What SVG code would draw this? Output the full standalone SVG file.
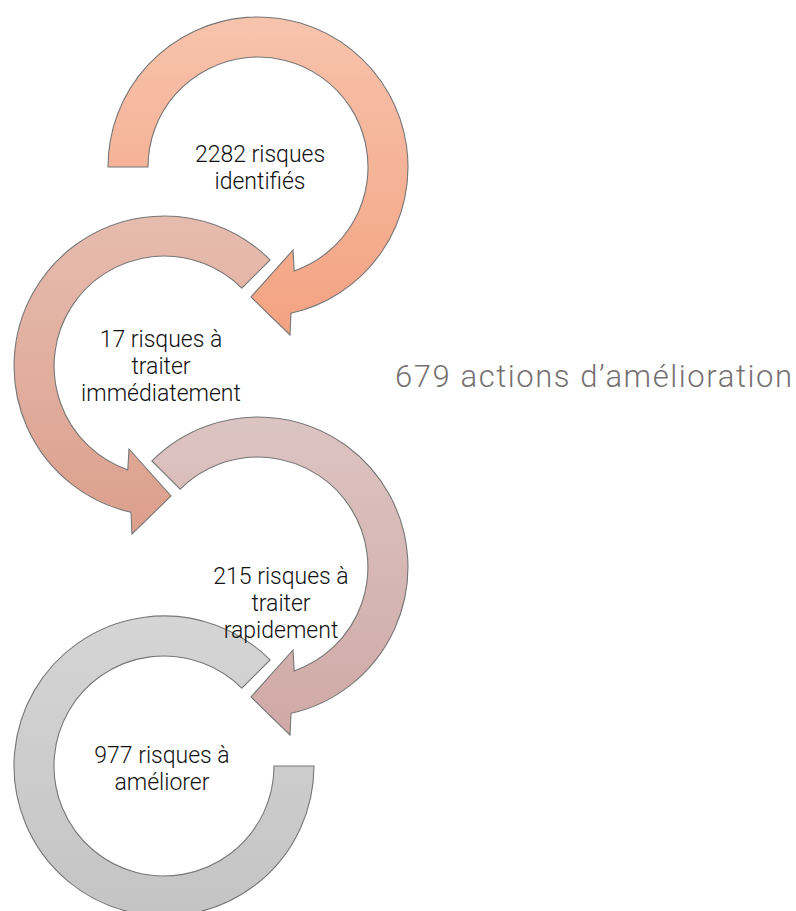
<svg xmlns="http://www.w3.org/2000/svg" width="796" height="911" viewBox="0 0 796 911">
  <style>
    .arc { stroke: #777777; stroke-width: 1.1; stroke-linejoin: miter; }
    .lbl { font-family: Roboto, "Open Sans", "Liberation Sans", sans-serif; font-weight: 300; font-size: 23px; fill: #111111; text-anchor: middle; }
    .big { font-family: Roboto, "Open Sans", "Liberation Sans", sans-serif; font-weight: 300; font-size: 31px; fill: #767171; }
  </style>
  <defs>
    <linearGradient id="g1" x1="0" y1="0" x2="0" y2="1">
      <stop offset="0" stop-color="#F7C3AC"/>
      <stop offset="1" stop-color="#F3A281"/>
    </linearGradient>
    <linearGradient id="g2" x1="0" y1="0" x2="0" y2="1">
      <stop offset="0" stop-color="#E6BCAF"/>
      <stop offset="1" stop-color="#DC9F8C"/>
    </linearGradient>
    <linearGradient id="g3" x1="0" y1="0" x2="0" y2="1">
      <stop offset="0" stop-color="#DCC4C2"/>
      <stop offset="1" stop-color="#D0A9A6"/>
    </linearGradient>
    <linearGradient id="g4" x1="0" y1="0" x2="0" y2="1">
      <stop offset="0" stop-color="#D5D5D5"/>
      <stop offset="1" stop-color="#C4C4C4"/>
    </linearGradient>
  </defs>

  <g id="node4">
    <path class="arc" fill="url(#g4)" d="M270.1,659.9 A150,150 0 1 0 314,766 L274,766 A110,110 0 1 1 241.8,688.2 Z"/>
    <text class="lbl"><tspan x="162" y="763">977 risques à</tspan><tspan x="162" y="790">améliorer</tspan></text>
  </g>

  <g id="node3">
    <path class="arc" fill="url(#g3)" d="M151.9,460.9 A150,150 0 1 1 291,713.3 L290,735 L251,697 L293,650 L294.2,670.9 A110,110 0 1 0 180.2,489.2 Z"/>
    <text class="lbl"><tspan x="281" y="584">215 risques à</tspan><tspan x="281" y="611">traiter</tspan><tspan x="281" y="638">rapidement</tspan></text>
  </g>

  <g id="node2">
    <path class="arc" fill="url(#g2)" d="M270.1,259.9 A150,150 0 1 0 131,512.3 L132,534 L171,496 L129,449 L127.8,469.9 A110,110 0 1 1 241.8,288.2 Z"/>
    <text class="lbl"><tspan x="161" y="347">17 risques à</tspan><tspan x="161" y="374">traiter</tspan><tspan x="161" y="401">immédiatement</tspan></text>
  </g>

  <g id="node1">
    <path class="arc" fill="url(#g1)" d="M108,167 A150,150 0 1 1 291,313.3 L290,335 L251,297 L293,250 L294.2,270.9 A110,110 0 1 0 148,167 Z"/>
    <text class="lbl"><tspan x="260" y="162">2282 risques</tspan><tspan x="260" y="189">identifiés</tspan></text>
  </g>

  <g id="node5">
    <text class="big" x="395" y="387" textLength="397" lengthAdjust="spacing">679 actions d’amélioration</text>
  </g>

  <g id="connectors"></g>
</svg>
